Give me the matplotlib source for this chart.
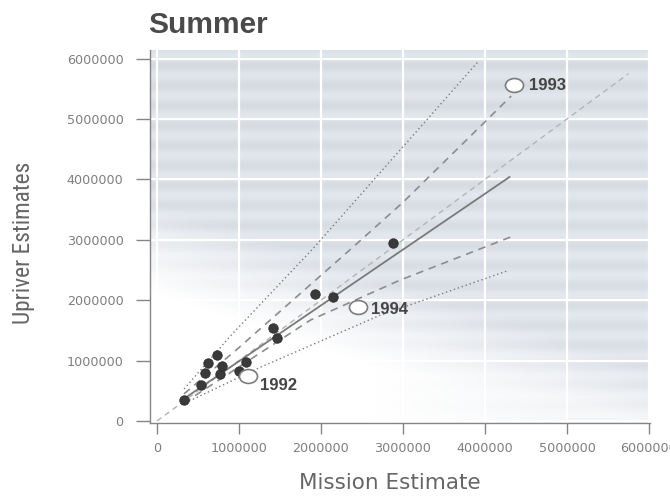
import numpy as np
import matplotlib
matplotlib.use("Agg")
import matplotlib.pyplot as plt
from matplotlib import font_manager as fm
from matplotlib.markers import MarkerStyle
from matplotlib.transforms import Affine2D

# ---- data -------------------------------------------------------------
# Summer run-size estimates (fish): Mission estimate vs. upriver estimates
mission = [0.33e6, 0.54e6, 0.59e6, 0.62e6, 0.73e6, 0.77e6, 0.79e6,
           1.00e6, 1.09e6, 1.41e6, 1.46e6, 1.93e6, 2.15e6, 2.88e6]
upriver = [0.35e6, 0.60e6, 0.79e6, 0.96e6, 1.09e6, 0.78e6, 0.91e6,
           0.83e6, 0.98e6, 1.54e6, 1.37e6, 2.10e6, 2.05e6, 2.95e6]

# highlighted years (open symbols)
years = ["1992", "1993", "1994"]
years_mission = [1.11e6, 4.35e6, 2.45e6]
years_upriver = [0.75e6, 5.56e6, 1.88e6]

# fitted line
fit_x = [0.33e6, 4.30e6]
fit_y = [0.37e6, 4.04e6]

# confidence band (dashed)
ci_up_x = [0.33e6, 0.97e6, 2.35e6, 3.00e6, 4.32e6]
ci_up_y = [0.45e6, 1.18e6, 2.83e6, 3.62e6, 5.38e6]
ci_lo_x = [0.33e6, 1.87e6, 2.96e6, 4.32e6]
ci_lo_y = [0.30e6, 1.67e6, 2.33e6, 3.05e6]

# prediction band (dotted)
pi_up_x = [0.33e6, 0.89e6, 1.90e6, 3.93e6]
pi_up_y = [0.53e6, 1.40e6, 2.85e6, 5.97e6]
pi_lo_x = [0.30e6, 1.26e6, 2.72e6, 4.26e6]
pi_lo_y = [0.27e6, 0.89e6, 1.75e6, 2.48e6]

# 1:1 reference line
ref_x = [0.0, 5.75e6]
ref_y = [0.0, 5.75e6]

tick_values = [0, 1e6, 2e6, 3e6, 4e6, 5e6, 6e6]
tick_labels = ["0", "1000000", "2000000", "3000000", "4000000", "5000000", "6000000"]


def first_installed(families):
    for fam in families:
        try:
            fm.findfont(fm.FontProperties(family=fam), fallback_to_default=False)
            return fam
        except Exception:
            continue
    return "Liberation Sans"


narrow_family = first_installed(["Liberation Sans Narrow", "Roboto Condensed",
                                 "Noto Sans Condensed", "DejaVu Sans Condensed",
                                 "Open Sans Condensed", "Liberation Sans"])

# ---- figure -----------------------------------------------------------
W, H = 670, 497
fig = plt.figure(figsize=(W / 100, H / 100), dpi=100)
fig.patch.set_facecolor("white")
ax = fig.add_axes([150 / W, 1 - 423 / H, 500 / W, 373 / H])

# panel shading: light grey-blue, fading to white toward the lower left
ny, nx = 373, 500
u = np.linspace(0, 1, nx)[None, :]
v = np.linspace(1, 0, ny)[:, None]
rows = np.arange(ny)[:, None]
base = np.array([219, 224, 231]) / 255.0
stripe = 0.022 * np.sin(2 * np.pi * rows / 20.0)
mask = np.clip((0.9 * u + 2.0 * v - 0.70) / 0.5, 0, 1)
mask = np.maximum(mask, 0.35 * np.clip((u - 0.45) / 0.4, 0, 1))
mask = mask * (0.85 + 0.15 * v)
col = base[None, None, :] + stripe[..., None]
img = 1.0 - mask[..., None] * (1.0 - col)
img = np.clip(img, 0, 1)
ax.imshow(img, extent=[0, 1, 0, 1], transform=ax.transAxes,
          aspect="auto", zorder=0, interpolation="bilinear")

ax.set_axisbelow(True)
ax.grid(True, color="white", lw=1.6)

# reference and band lines
ax.plot(ref_x, ref_y, color="#b4b4b4", lw=1.0, ls=(0, (4, 3)), zorder=2)
ax.plot(pi_up_x, pi_up_y, color="#7a7a7a", lw=1.0, ls=(0, (1, 2)), zorder=2)
ax.plot(pi_lo_x, pi_lo_y, color="#7a7a7a", lw=1.0, ls=(0, (1, 2)), zorder=2)
ax.plot(ci_up_x, ci_up_y, color="#8c8c8c", lw=1.2, ls=(0, (4.5, 3.5)), zorder=2)
ax.plot(ci_lo_x, ci_lo_y, color="#8c8c8c", lw=1.2, ls=(0, (4.5, 3.5)), zorder=2)
ax.plot(fit_x, fit_y, color="#7a7a7a", lw=1.3, zorder=3)

# observations
ax.plot(mission, upriver, ls="none", marker="o", ms=6.8,
        mfc="#3a3a3a", mec="#2c2c2c", mew=0.6, zorder=4)

oval = MarkerStyle("o", transform=Affine2D().scale(1.3, 1.0))
ax.plot(years_mission, years_upriver, ls="none", marker=oval, ms=10,
        mfc="white", mec="#7c7c7c", mew=1.2, zorder=5)

offsets = {"1992": (8.6, -7.2), "1993": (10.8, 0.0), "1994": (9.4, -1.5)}
for yr, xm, yu in zip(years, years_mission, years_upriver):
    ax.annotate(yr, (xm, yu), xytext=offsets[yr], textcoords="offset points",
                ha="left", va="center", fontsize=12, fontweight="bold",
                family=["Liberation Sans", "DejaVu Sans"], color="#444444",
                zorder=6)

# axes
ax.set_xlim(-0.085e6, 6.013e6)
ax.set_ylim(-0.033e6, 6.143e6)
for s in ("top", "right"):
    ax.spines[s].set_visible(False)
for s in ("left", "bottom"):
    ax.spines[s].set_color("#858585")
    ax.spines[s].set_linewidth(1.0)
    ax.spines[s].set_zorder(6)

ax.set_xticks(tick_values)
ax.set_xticklabels(tick_labels)
ax.set_yticks(tick_values)
ax.set_yticklabels(tick_labels)
ax.tick_params(axis="y", direction="out", length=10, width=1.0, pad=9,
               color="#858585", labelcolor="#7e7e7e", labelsize=9.2)
ax.tick_params(axis="x", direction="out", length=8, width=1.0, pad=6,
               color="#858585", labelcolor="#7e7e7e", labelsize=9.2)

# titles
fig.text(148 / W, 1 - 33 / H, "Summer", ha="left", va="baseline",
         fontsize=21.5, fontweight="bold",
         family=["Liberation Sans", "DejaVu Sans"], color="#4a4a4a")
fig.text(390 / W, 1 - 483 / H, "Mission Estimate", ha="center", va="center",
         fontsize=15.5, family="DejaVu Sans", color="#666666")
ylab = fig.text(24 / W, 1 - 243 / H, "Upriver Estimates", ha="center",
                va="center", rotation=90, fontsize=17.5,
                family=[narrow_family, "DejaVu Sans"], color="#666666")

# fit the vertical label to its span along the axis
fig.canvas.draw()
span = ylab.get_window_extent(fig.canvas.get_renderer()).height
if span > 0:
    ylab.set_fontsize(min(17.5, 17.5 * 162.0 / span))

fig.savefig("out.png", dpi=100)
